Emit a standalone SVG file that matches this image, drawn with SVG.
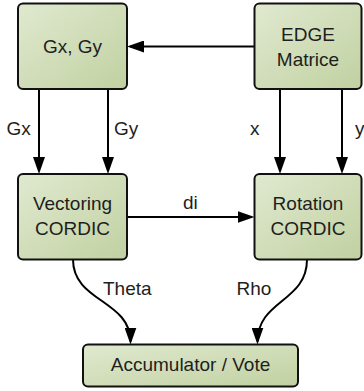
<svg xmlns="http://www.w3.org/2000/svg" width="364" height="391" viewBox="0 0 364 391">
  <defs>
    <linearGradient id="boxfill" x1="0" y1="0" x2="1" y2="1">
      <stop offset="0" stop-color="#e0e9d0"/>
      <stop offset="1" stop-color="#c1d1a1"/>
    </linearGradient>
    <marker id="arrow" viewBox="0 0 17 12" refX="14" refY="6" markerWidth="17" markerHeight="12" markerUnits="userSpaceOnUse" orient="auto">
      <path d="M0,0 L17,6 L0,12 z" fill="#000"/>
    </marker>
    <style>
      .box { fill: url(#boxfill); stroke: #111; stroke-width: 2; }
      .lbl { font-family: "Liberation Sans", Arial, sans-serif; font-size: 19px; fill: #1e1e1e; }
      .mid { text-anchor: middle; }
      .edge { fill: none; stroke: #000; stroke-width: 2; marker-end: url(#arrow); }
    </style>
  </defs>
  <rect width="364" height="391" fill="#fff"/>

  <g id="connectors">
    <path class="edge" d="M254.5,46.5 L130,46.5"/>
    <path class="edge" d="M39,89 L39,171"/>
    <path class="edge" d="M108,89 L108,171"/>
    <path class="edge" d="M280,89 L280,171"/>
    <path class="edge" d="M342,89 L342,171"/>
    <path class="edge" d="M127,217 L251.5,217"/>
    <path class="edge" d="M73,259.5 C73,302 130.5,300 130.5,341.5"/>
    <path class="edge" d="M307,259.5 C307,302 257.5,300 257.5,341.5"/>
    <text class="lbl" x="6.5" y="135">Gx</text>
    <text class="lbl" x="114" y="135">Gy</text>
    <text class="lbl" x="250" y="135">x</text>
    <text class="lbl" x="355" y="135">y</text>
    <text class="lbl" x="183" y="209">di</text>
    <text class="lbl" x="103" y="295">Theta</text>
    <text class="lbl" x="236.5" y="295">Rho</text>
  </g>

  <g id="gxgy">
    <rect class="box" x="18" y="3.5" width="109" height="85.5" rx="5"/>
    <text class="lbl mid" x="72.5" y="53">Gx, Gy</text>
  </g>
  <g id="edge-matrice">
    <rect class="box" x="254.5" y="3.5" width="107" height="85.5" rx="5"/>
    <text class="lbl mid" x="308" y="40.5">EDGE</text>
    <text class="lbl mid" x="308" y="66">Matrice</text>
  </g>
  <g id="vectoring">
    <rect class="box" x="18" y="174" width="109" height="85.5" rx="5"/>
    <text class="lbl mid" x="72.5" y="210">Vectoring</text>
    <text class="lbl mid" x="72.5" y="235">CORDIC</text>
  </g>
  <g id="rotation">
    <rect class="box" x="254.5" y="174" width="107" height="85.5" rx="5"/>
    <text class="lbl mid" x="308" y="210">Rotation</text>
    <text class="lbl mid" x="308" y="235">CORDIC</text>
  </g>
  <g id="accumulator">
    <rect class="box" x="83" y="344.5" width="215" height="42" rx="5"/>
    <text class="lbl mid" x="190.5" y="370.5">Accumulator / Vote</text>
  </g>
</svg>
